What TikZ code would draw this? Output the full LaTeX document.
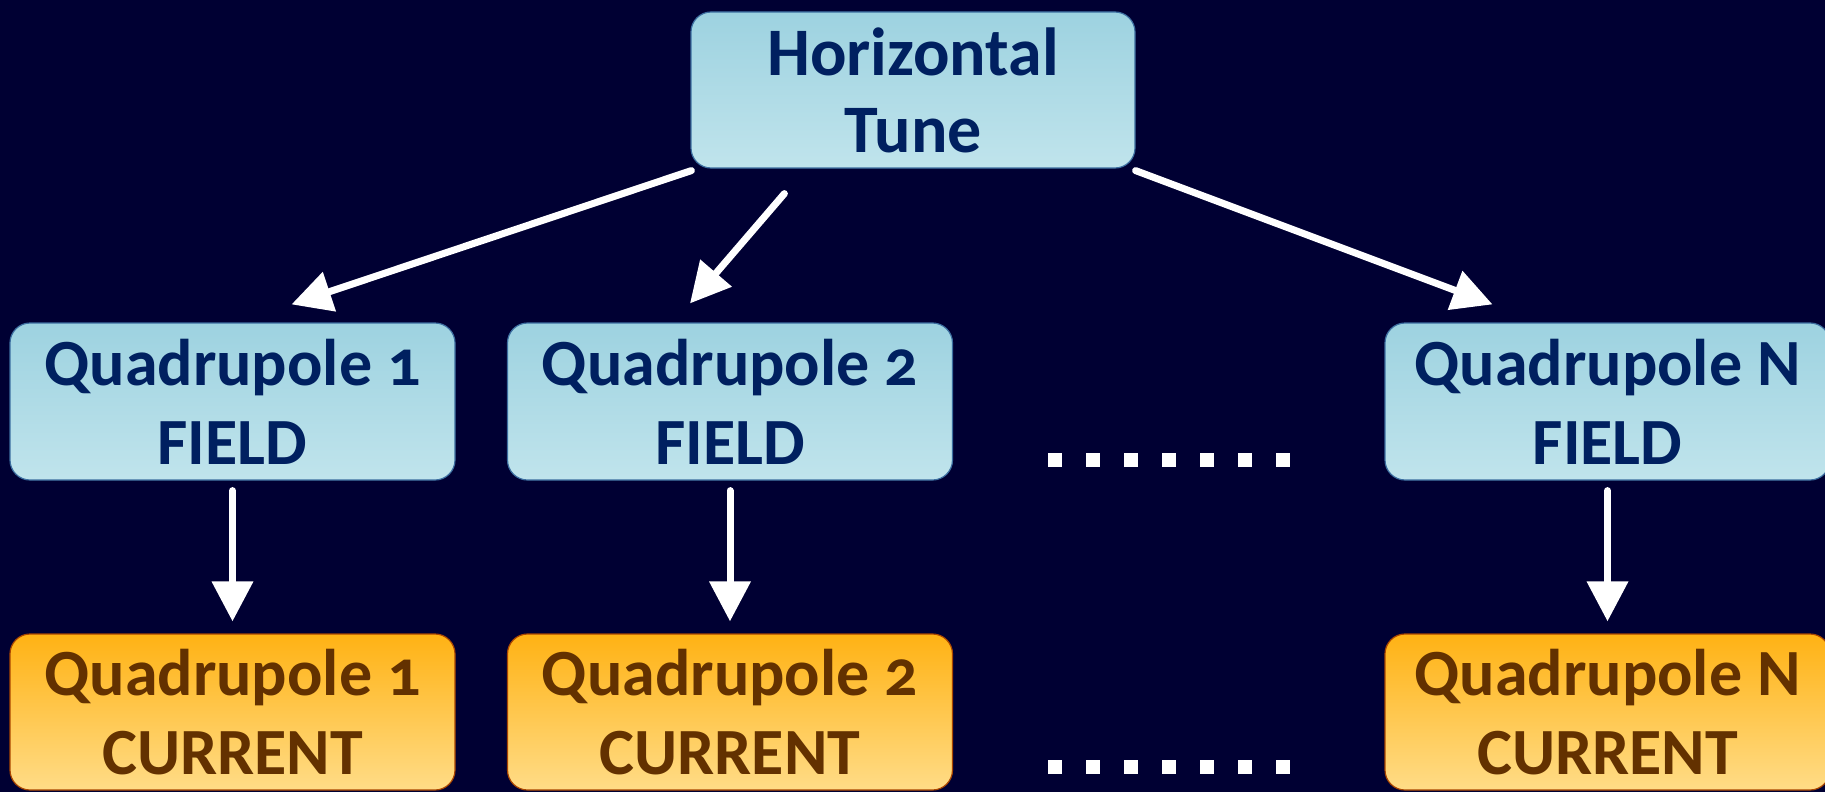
\documentclass[tikz,border=0pt]{standalone}
\usepackage{fontspec}
\setmainfont{Carlito}[Numbers=OldStyle]
\usetikzlibrary{arrows.meta,calc}
\definecolor{bg}{RGB}{0,0,51}
\definecolor{bluetop}{RGB}{157,210,224}
\definecolor{bluebot}{RGB}{192,228,236}
\definecolor{blueedge}{RGB}{60,110,160}
\definecolor{bluetext}{RGB}{0,32,96}
\definecolor{orgtop}{RGB}{255,178,20}
\definecolor{orgbot}{RGB}{255,220,135}
\definecolor{orgedge}{RGB}{170,70,0}
\definecolor{orgtext}{RGB}{99,49,0}
\tikzset{
  basebox/.style={rectangle, rounded corners=20pt, line width=1.2pt, align=center,
    font=\bfseries\fontsize{66}{79}\selectfont, inner sep=0pt},
  fieldbox/.style={basebox, draw=blueedge, top color=bluetop, bottom color=bluebot,
    text=bluetext, minimum width=445pt, minimum height=157pt},
  currbox/.style={basebox, draw=orgedge, top color=orgtop, bottom color=orgbot,
    text=orgtext, minimum width=445pt, minimum height=156pt},
  tunebox/.style={basebox, draw=blueedge, top color=bluetop, bottom color=bluebot,
    text=bluetext, minimum width=444pt, minimum height=156pt,
    font=\bfseries\fontsize{68}{77}\selectfont},
  conn/.style={draw=white, line width=7pt, line cap=round,
    -{Triangle[length=40pt,width=40pt]}},
  dot/.style={fill=white}
}
\begin{document}
\begin{tikzpicture}[x=1pt,y=-1pt]
\useasboundingbox (0,0) rectangle (1825,792);
\fill[bg] (0,0) rectangle (1825,792);

\node[tunebox] (tune) at (913,90) {Horizontal\\Tune};

\node[fieldbox] (f1) at (232.5,401.5) {Quadrupole 1\\FIELD};
\node[fieldbox] (f2) at (730,401.5) {Quadrupole 2\\FIELD};
\node[fieldbox] (fN) at (1607.5,401.5) {Quadrupole N\\FIELD};

\node[currbox] (c1) at (232.5,712) {Quadrupole 1\\CURRENT};
\node[currbox] (c2) at (730,712) {Quadrupole 2\\CURRENT};
\node[currbox] (cN) at (1607.5,712) {Quadrupole N\\CURRENT};

\draw[conn] ($(tune.south west)+(1,2)$) -- ($(f1.north)+(59,-18)$);
\draw[conn] ($(tune.south west)+(94,25)$) -- ($(f2.north)+(-40,-19)$);
\draw[conn] ($(tune.south east)+(0,2)$) -- ($(fN.north)+(-115,-18)$);

\draw[conn] ($(f1.south)+(0,10)$) -- ($(c1.north)+(0,-12)$);
\draw[conn] ($(f2.south)+(0,10)$) -- ($(c2.north)+(0,-12)$);
\draw[conn] ($(fN.south)+(0,10)$) -- ($(cN.north)+(0,-12)$);

\foreach \k in {0,...,6} {
  \fill[dot] (1048+38*\k,453) rectangle ++(14,14);
  \fill[dot] (1048+38*\k,760) rectangle ++(14,14);
}
\end{tikzpicture}
\end{document}
